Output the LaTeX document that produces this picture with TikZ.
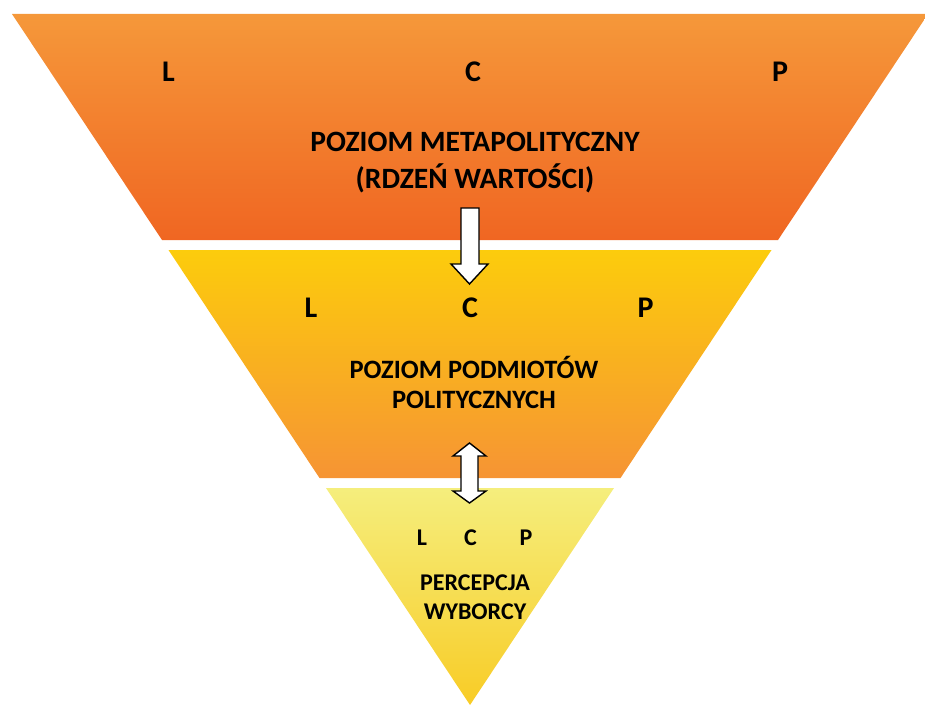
\documentclass[tikz,border=0pt]{standalone}
\usepackage{fontspec}
\setmainfont{Carlito}
\usepackage{tikz}
\definecolor{carrottop}{RGB}{245, 152, 58}
\definecolor{carrotbot}{RGB}{240, 102, 34}
\definecolor{sunflowertop}{RGB}{252, 204, 12}
\definecolor{sunflowerbot}{RGB}{246, 148, 52}
\definecolor{lemontop}{RGB}{245, 238, 125}
\definecolor{lemonbot}{RGB}{248, 204, 38}
\tikzset{
    levelmark/.style={font=\fontsize{30}{31}\selectfont\bfseries, anchor=base, inner sep=0pt},
    smallmark/.style={font=\fontsize{24}{25}\selectfont\bfseries, anchor=base, inner sep=0pt},
    leveltitle/.style={align=center, anchor=base, inner sep=0pt},
    blockarrow/.style={draw=black, fill=white, line width=1.4pt, line join=miter}
}

\begin{document}
\begin{tikzpicture}[x=1pt, y=-1pt]
            \useasboundingbox                                          (0.00, 0.00) rectangle (925.00, 706.00);
            \shade[top color=carrottop,    bottom color=carrotbot]     (12.00, 14.00) -- (928.00, 14.00) -- (778.00, 240.00) -- (162.00, 240.00) -- cycle;
            \shade[top color=sunflowertop, bottom color=sunflowerbot]  (168.50, 250.00) -- (771.50, 250.00) -- (620.50, 478.00) -- (319.50, 478.00) -- cycle;
            \shade[top color=lemontop,     bottom color=lemonbot]      (326.00, 488.00) -- (614.00, 488.00) -- (470.00, 705.00) -- cycle;
            \filldraw[blockarrow] (461.00, 208.00) -- (479.00, 208.00) -- (479.00, 264.00) -- (488.00, 264.00) -- (469.50, 284.00) -- (451.00, 264.00) -- (461.00, 264.00) -- cycle;
            \filldraw[blockarrow] (469.50, 443.00) -- (486.00, 456.00) -- (478.00, 456.00) -- (478.00, 491.00) -- (486.00, 491.00) -- (469.50, 503.00) -- (453.00, 491.00) -- (461.00, 491.00) -- (461.00, 456.00) -- (453.00, 456.00) -- cycle;
        \node[levelmark] (topL) at (168.50, 81.70) {L};
        \node[levelmark] (topC) at (473.00, 81.70) {C};
        \node[levelmark] (topP) at (780.00, 81.70) {P};
        \node[leveltitle, font=\fontsize{29.5}{37}\selectfont\bfseries] (toptitle) at (475.00, 188.00) {POZIOM METAPOLITYCZNY\\(RDZEŃ WARTOŚCI)};
        \node[levelmark] (midL) at (311.00, 317.00) {L};
        \node[levelmark] (midC) at (470.00, 317.00) {C};
        \node[levelmark] (midP) at (645.50, 317.00) {P};
        \node[leveltitle, font=\fontsize{26.5}{30}\selectfont\bfseries] (midtitle) at (474.00, 408.00) {POZIOM PODMIOTÓW\\POLITYCZNYCH};
        \node[smallmark] (lowL) at (422.00, 545.00) {L};
        \node[smallmark] (lowC) at (470.50, 545.00) {C};
        \node[smallmark] (lowP) at (526.00, 545.00) {P};
        \node[leveltitle, font=\fontsize{24}{29}\selectfont\bfseries] (lowtitle) at (475.00, 619.30) {PERCEPCJA\\WYBORCY};
        \end{tikzpicture}
\end{document}
